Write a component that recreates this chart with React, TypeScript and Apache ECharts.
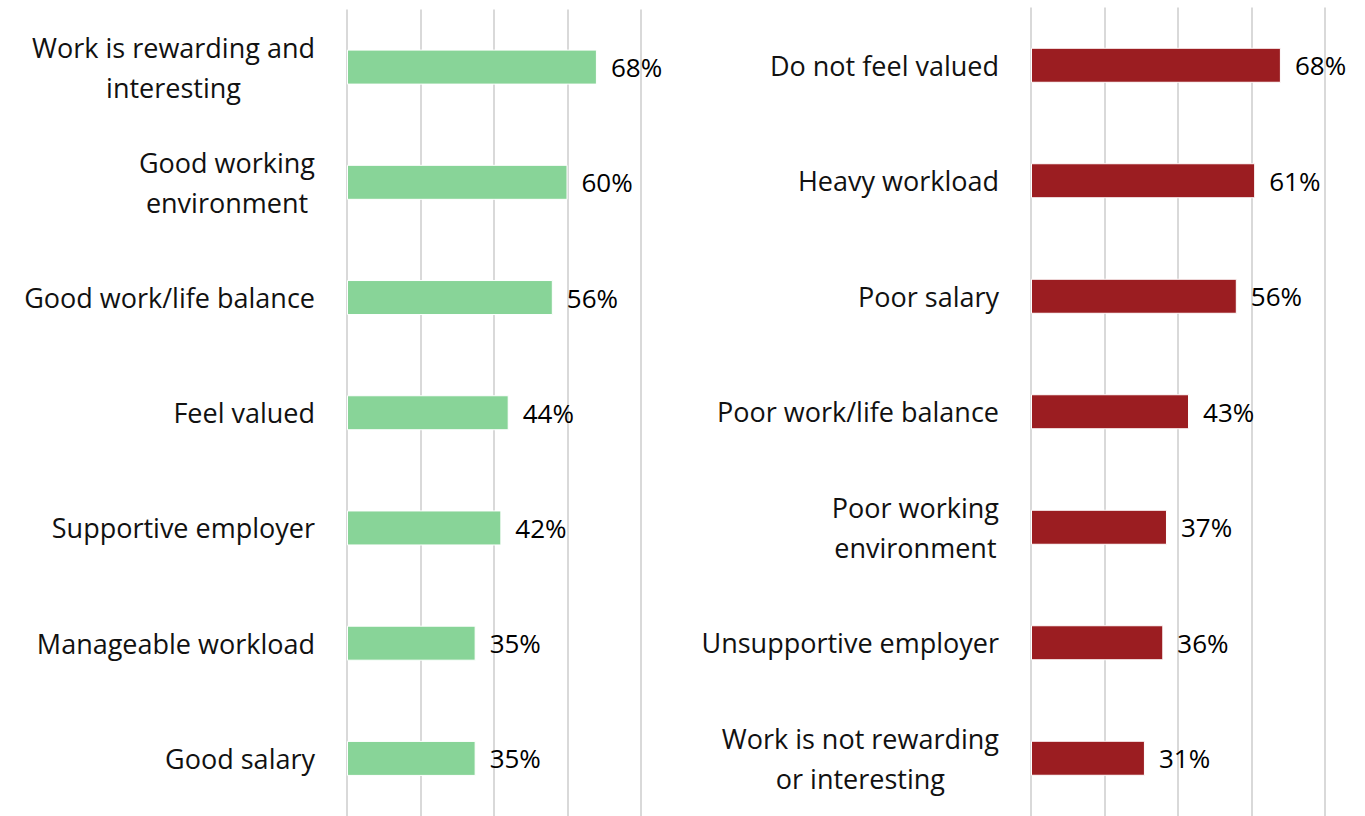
import React, { useEffect, useRef } from "react";
import * as echarts from "echarts";

// Reasons for staying in the job (left) and for leaving it (right), % of respondents
const stayReasons = [
  "Work is rewarding and\ninteresting",
  "Good working\nenvironment",
  "Good work/life balance",
  "Feel valued",
  "Supportive employer",
  "Manageable workload",
  "Good salary",
];
const stayValues = [68, 60, 56, 44, 42, 35, 35];

const leaveReasons = [
  "Do not feel valued",
  "Heavy workload",
  "Poor salary",
  "Poor work/life balance",
  "Poor working\nenvironment",
  "Unsupportive employer",
  "Work is not rewarding\nor interesting",
];
const leaveValues = [68, 61, 56, 43, 37, 36, 31];

const xTicks = [0, 20, 40, 60, 80];

const FONT = "'Open Sans', 'Noto Sans', sans-serif";
const GREEN = "#88d498";
const RED = "#9b1d21";
const GRID_GREY = "#d9d9d9";

const centeredLines = (v: string) =>
  v
    .split("\n")
    .map((l) => `{c|${l}}`)
    .join("\n");

function valueAxis(gridIndex: number) {
  return {
    type: "value" as const,
    gridIndex,
    min: xTicks[0],
    max: xTicks[xTicks.length - 1],
    interval: xTicks[1] - xTicks[0],
    axisLabel: { show: false },
    axisLine: { show: false },
    axisTick: { show: false },
    splitLine: { show: true, lineStyle: { color: GRID_GREY, width: 2 } },
  };
}

function categoryAxis(gridIndex: number, data: string[]) {
  return {
    type: "category" as const,
    gridIndex,
    data,
    inverse: true,
    axisLine: { show: false },
    axisTick: { show: false },
    axisLabel: {
      margin: 32,
      align: "right" as const,
      formatter: centeredLines,
      rich: {
        c: {
          align: "center",
          fontFamily: FONT,
          fontSize: 27,
          lineHeight: 40,
          color: "#111111",
        },
      },
    },
  };
}

function barSeries(idx: number, data: number[], color: string) {
  return {
    type: "bar" as const,
    xAxisIndex: idx,
    yAxisIndex: idx,
    data,
    barWidth: 35,
    itemStyle: { color, borderColor: "#ffffff", borderWidth: 1 },
    label: {
      show: true,
      position: "right" as const,
      distance: 14,
      formatter: "{c}%",
      fontFamily: FONT,
      fontSize: 26,
      color: "#000000",
    },
  };
}

export default function App() {
  const ref = useRef<HTMLDivElement>(null);

  useEffect(() => {
    if (!ref.current) return;
    const chart = echarts.init(ref.current, undefined, { renderer: "svg" });
    chart.setOption({
      animation: false,
      backgroundColor: "#ffffff",
      grid: [
        { left: 347, width: 294, top: 9.5, height: 812 },
        { left: 1031, width: 294, top: 7.5, height: 812 },
      ],
      xAxis: [valueAxis(0), valueAxis(1)],
      yAxis: [categoryAxis(0, stayReasons), categoryAxis(1, leaveReasons)],
      series: [barSeries(0, stayValues, GREEN), barSeries(1, leaveValues, RED)],
    });
    return () => chart.dispose();
  }, []);

  return (
    <div
      ref={ref}
      style={{ position: "absolute", left: 0, top: 0, width: 1365, height: 816 }}
    />
  );
}
